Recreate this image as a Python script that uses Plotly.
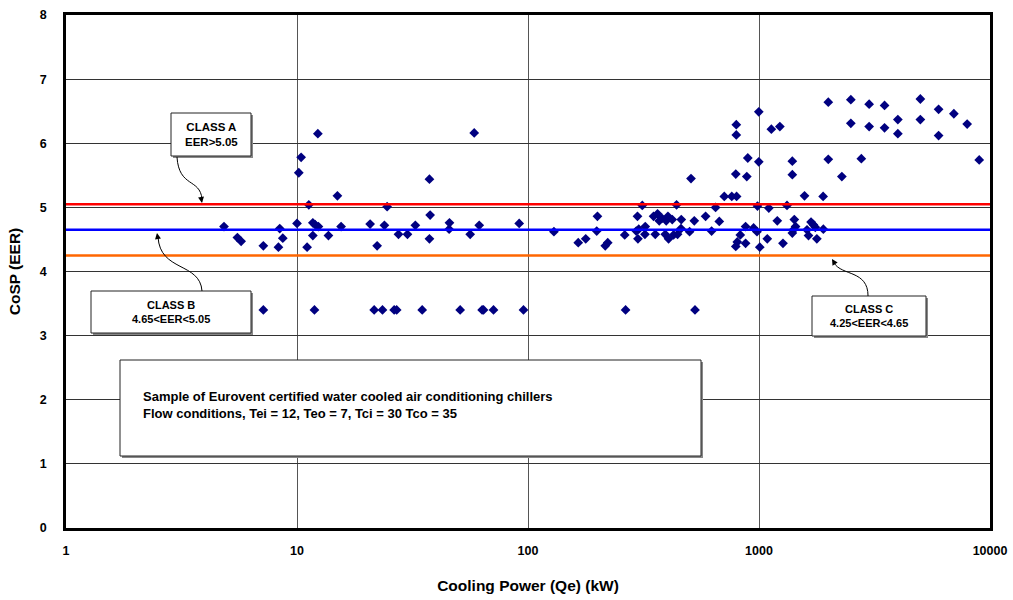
import plotly.graph_objects as go

# ---- data ----
power_kw = [4.83, 5.52, 5.73, 7.15, 7.15, 8.31, 8.42, 8.68, 10.0, 10.18, 10.42, 11.06, 11.25,
            11.71, 11.98, 12.38, 11.71, 12.31, 11.90, 13.68, 14.96, 15.52, 20.73, 21.58, 22.23,
            23.44, 23.90, 24.56, 26.34, 27.01, 27.50, 30.07, 32.53, 34.83, 37.44, 37.70, 37.44,
            45.71, 45.57, 50.86, 56.2, 58.5, 61.5, 63.3, 64.2, 70.9, 91.6, 95.6, 129.5, 165.0,
            177.8, 199.8, 198.4, 216.0, 221.4, 264.5, 262.3, 297.8, 312.4, 294.2, 299.2, 321.8,
            320.8, 301.6, 349.6, 363.8, 370.0, 380.1, 403.5, 421.2, 396.7, 355.6, 392.8, 406.0,
            426.7, 444.1, 459.4, 500.6, 439.7, 460.8, 507.7, 524.7, 528.3, 587.2, 623.4, 648.7,
            673.1, 707.5, 762.4, 799.8, 793.4, 797.4, 797.4, 894.4, 885.5, 793.4, 805.4, 829.9,
            874.9, 874.9, 947.6, 980.2, 985.1, 998, 998, 1008, 1086, 1103, 1131, 1231, 1200,
            1270, 1322, 1394, 1394, 1422, 1440, 1394, 1418, 1574, 1614, 1638, 1680, 1719, 1753,
            1780, 1895, 1899, 1995, 1995, 2284, 2498, 2498, 2773, 2998, 2998, 3496, 3496, 3991,
            3991, 4995, 4995, 5991, 5991, 6976, 7965, 8980]
eer = [4.70, 4.53, 4.47, 4.40, 3.40, 4.38, 4.67, 4.52, 4.75, 5.54, 5.78, 4.38, 5.04,
       4.76, 4.73, 4.70, 4.56, 6.15, 3.40, 4.56, 5.18, 4.70, 4.74, 3.40, 4.40,
       3.40, 4.72, 5.01, 3.40, 3.40, 4.58, 4.58, 4.72, 3.40, 5.44, 4.88, 4.51,
       4.76, 4.66, 3.40, 4.58, 6.16, 4.72, 3.40, 3.40, 3.40, 4.75, 3.40, 4.62, 4.45,
       4.51, 4.86, 4.63, 4.40, 4.45, 3.40, 4.57, 4.86, 5.03, 4.63, 4.51, 4.70,
       4.58, 4.66, 4.86, 4.90, 4.79, 4.83, 4.86, 4.81, 4.79, 4.58, 4.58, 4.51,
       4.57, 4.58, 4.67, 4.62, 5.04, 4.81, 5.45, 4.79, 3.40, 4.86, 4.63, 5.00,
       4.78, 5.17, 5.17, 5.17, 5.52, 6.29, 6.13, 5.77, 5.48, 4.39, 4.46, 4.57,
       4.70, 4.44, 4.68, 4.62, 5.02, 6.49, 5.71, 4.38, 4.51, 4.99, 6.22, 6.26, 4.79,
       4.44, 5.03, 5.72, 5.51, 4.81, 4.70, 4.60, 4.66, 5.18, 4.65, 4.56, 4.77, 4.73, 4.69,
       4.51, 5.17, 4.66, 6.64, 5.75, 5.48, 6.68, 6.31, 5.76, 6.61, 6.26, 6.59, 6.24, 6.37,
       6.15, 6.69, 6.37, 6.53, 6.12, 6.46, 6.30, 5.74]

class_a_limit = 5.05
class_b_limit = 4.65
class_c_limit = 4.25

x_ticks = [1, 10, 100, 1000, 10000]
x_tick_labels = ["1", "10", "100", "1000", "10000"]
y_ticks = [0, 1, 2, 3, 4, 5, 6, 7, 8]
y_tick_labels = ["0", "1", "2", "3", "4", "5", "6", "7", "8"]

# ---- layout helpers (pixel -> paper) ----
L, R, T, B = 66, 990, 15, 528
W, H = 1013, 600
def px(x):
    return (x - L) / (R - L)
def py(y):
    return (B - y) / (B - T)

FONT = "Liberation Sans, Arial, sans-serif"
def bold(s):
    return "<b>" + s + "</b>"

fig = go.Figure()
fig.add_trace(go.Scatter(
    x=power_kw, y=eer, mode="markers",
    marker=dict(symbol="diamond", size=7.5, color="#000080",
                line=dict(width=0)),
    showlegend=False, hoverinfo="x+y"))

shapes = []
for val, col in [(class_a_limit, "#FF0000"), (class_b_limit, "#0000FF"), (class_c_limit, "#FF6600")]:
    shapes.append(dict(type="line", xref="paper", yref="y", x0=0, x1=1, y0=val, y1=val,
                       line=dict(color=col, width=2.5), layer="above"))

def box(x0, y0, x1, y1, shadow=False):
    out = []
    if shadow:
        out.append(dict(type="rect", xref="paper", yref="paper",
                        x0=px(x0 + 2), x1=px(x1 + 2), y0=py(y1 + 2), y1=py(y0 + 2),
                        line=dict(width=0), fillcolor="#888888", layer="above"))
    out.append(dict(type="rect", xref="paper", yref="paper",
                    x0=px(x0), x1=px(x1), y0=py(y1), y1=py(y0),
                    line=dict(color="#222222", width=1), fillcolor="white", layer="above"))
    return out

def curve(p0, c1, c2, p1):
    pts = [p0, c1, c2, p1]
    s = "M {:.4f},{:.4f} C {:.4f},{:.4f} {:.4f},{:.4f} {:.4f},{:.4f}".format(
        *[v for p in pts for v in (px(p[0]), py(p[1]))])
    return dict(type="path", xref="paper", yref="paper", path=s,
                line=dict(color="black", width=1), layer="above")

shapes += box(171, 113, 251, 156, shadow=True)
shapes += box(91, 291, 251, 333, shadow=True)
shapes += box(812, 296, 926, 336, shadow=True)
shapes += box(120, 360, 701, 456, shadow=True)
shapes.append(curve((177, 157), (179, 188), (200, 178), (202, 199)))
shapes.append(curve((202, 291), (200, 262), (160, 272), (158, 237)))
shapes.append(curve((868, 296), (868, 270), (842, 276), (834, 263)))

annotations = []
def label(cx, cy, lines, size=11, align="center", xanchor="center"):
    annotations.append(dict(xref="paper", yref="paper", x=px(cx), y=py(cy),
                            text="<br>".join(bold(t) for t in lines),
                            showarrow=False, align=align, xanchor=xanchor, yanchor="middle",
                            font=dict(family=FONT, size=size, color="black")))

label(211, 134, ["CLASS A", "EER>5.05"], size=11.5)
label(171, 312, ["CLASS B", "4.65<EER<5.05"], size=11)
label(869, 316, ["CLASS C", "4.25<EER<4.65"], size=11)
label(141, 405, ["Sample of Eurovent certified water cooled air conditioning chillers",
                 "Flow conditions, Tei = 12, Teo = 7, Tci = 30 Tco = 35"],
      size=13, align="left", xanchor="left")

def head(hx, hy, ax, ay):
    annotations.append(dict(xref="paper", yref="paper", x=px(hx), y=py(hy), ax=ax, ay=ay,
                            text="", showarrow=True, arrowhead=2, arrowsize=1.2,
                            arrowwidth=1, arrowcolor="black", standoff=0))

head(202, 203, -1, -6)
head(157, 233, 1, 6)
head(832, 259, 3, 5)

fig.update_layout(
    width=W, height=H,
    margin=dict(l=L, r=W - R, t=T, b=H - B, autoexpand=False),
    paper_bgcolor="white", plot_bgcolor="white",
    shapes=shapes, annotations=annotations,
    font=dict(family=FONT, color="black"),
    xaxis=dict(type="log", range=[0, 4], tickvals=x_ticks,
               ticktext=[bold(t) for t in x_tick_labels],
               showgrid=True, gridcolor="#555555", gridwidth=1,
               showline=True, linecolor="black", linewidth=2.5, mirror=True,
               ticks="", ticklabelstandoff=9, tickfont=dict(family=FONT, size=12.5),
               title=dict(text=bold("Cooling Power (Qe) (kW)"), standoff=24,
                          font=dict(family=FONT, size=15.5)),
               automargin=False, zeroline=False),
    yaxis=dict(range=[0, 8], tickvals=y_ticks,
               ticktext=[bold(t) for t in y_tick_labels],
               showgrid=True, gridcolor="#333333", gridwidth=1,
               showline=True, linecolor="black", linewidth=2.5, mirror=True,
               ticks="", ticklabelstandoff=14, tickfont=dict(family=FONT, size=12.5),
               title=dict(text=bold("CoSP (EER)"), standoff=16,
                          font=dict(family=FONT, size=15.5)),
               automargin=False, zeroline=False),
)

fig.write_html("out.html")
